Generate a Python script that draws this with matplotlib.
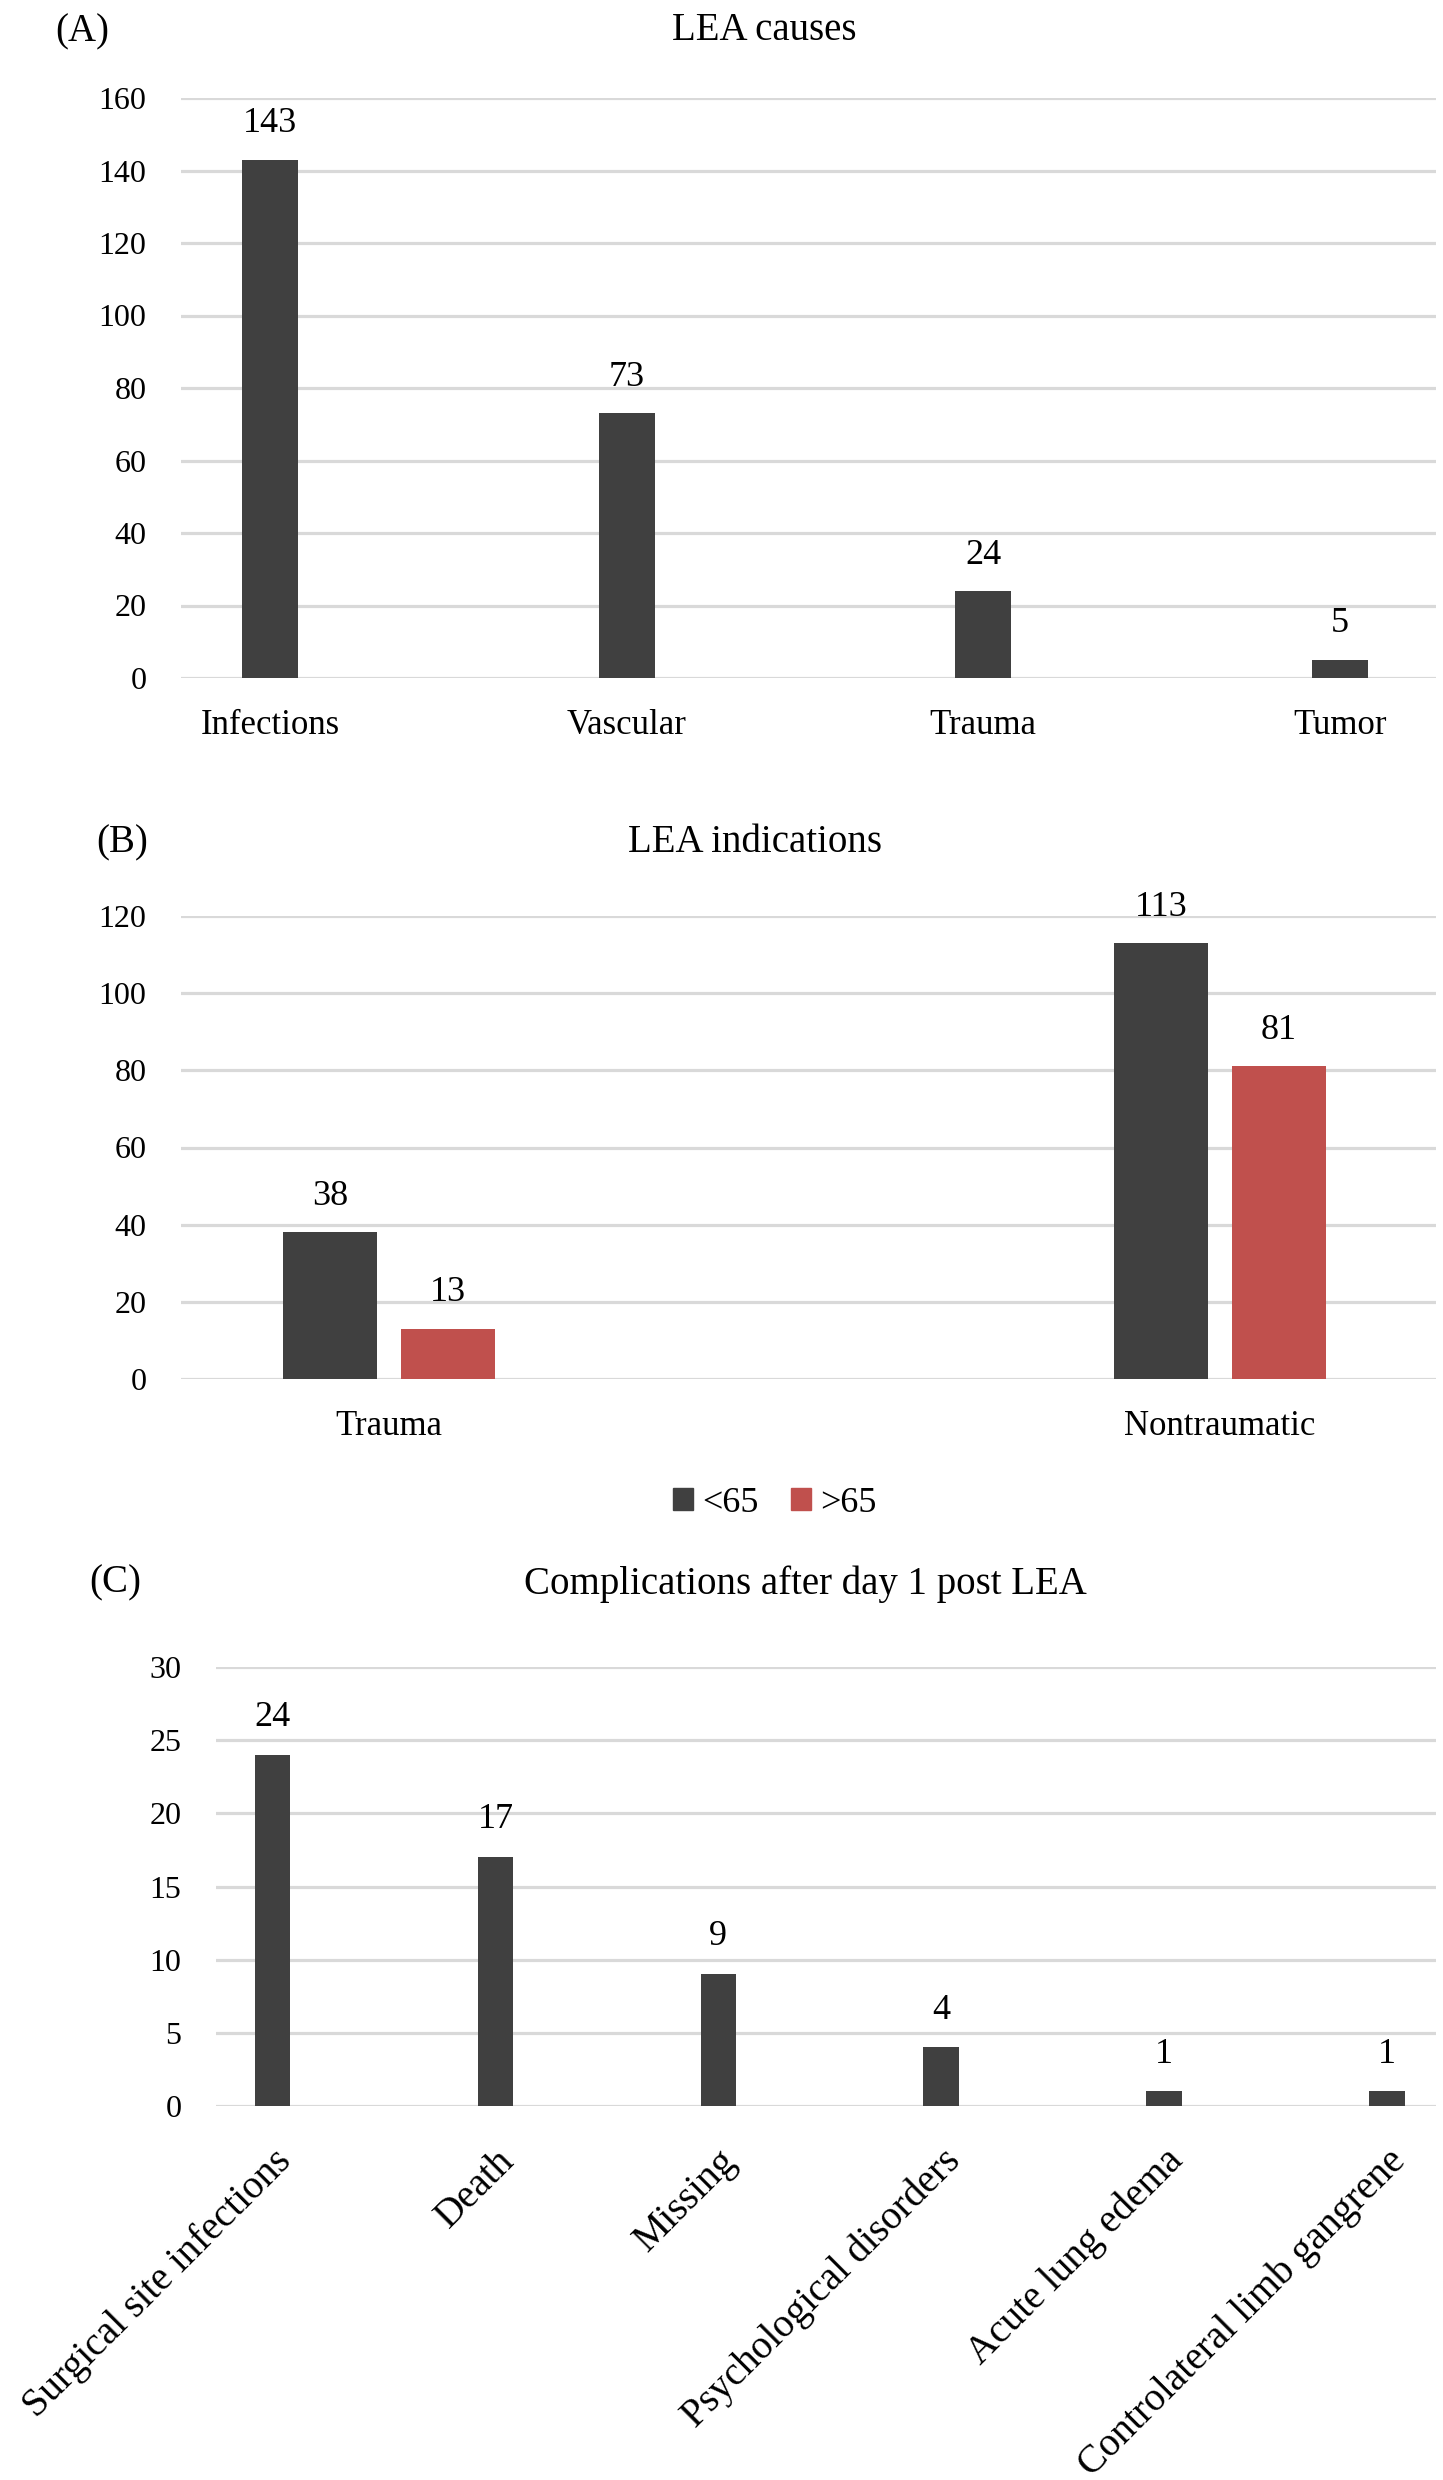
import matplotlib
matplotlib.use("Agg")
import matplotlib.pyplot as plt
from matplotlib.patches import Patch

plt.rcParams['font.family'] = ['Liberation Serif', 'DejaVu Serif']

# data
causes = ['Infections', 'Vascular', 'Trauma', 'Tumor']
causes_n = [143, 73, 24, 5]

indications = ['Trauma', 'Nontraumatic']
under65 = [38, 113]
over65 = [13, 81]

complications = ['Surgical site infections', 'Death', 'Missing',
                 'Psychological disorders', 'Acute lung edema',
                 'Controlateral limb gangrene']
complications_n = [24, 17, 9, 4, 1, 1]

DARK = '#404040'
RED = '#c0504d'
GRID = '#d9d9d9'
W, H = 1443, 2480


def style(ax, ymax, step):
    ax.set_ylim(0, ymax)
    ax.set_yticks(range(0, ymax + 1, step))
    ax.yaxis.grid(True, color=GRID, linewidth=2.3)
    ax.set_axisbelow(True)
    for s in ax.spines.values():
        s.set_visible(False)
    ax.tick_params(axis='both', length=0)
    ax.tick_params(axis='y', labelsize=23, pad=25)


fig = plt.figure(figsize=(W / 100, H / 100), dpi=100)

# (A) LEA causes
axA = fig.add_axes([181 / W, 1 - 678 / H, 1255 / W, 580 / H])
style(axA, 160, 20)
x = range(len(causes))
b = axA.bar(x, causes_n, width=0.157, color=DARK)
axA.bar_label(b, padding=14, fontsize=26)
axA.set_xticks(list(x))
axA.set_xticklabels(causes, fontsize=25)
axA.tick_params(axis='x', pad=22)
axA.set_xlim(-0.25, 3.27)
fig.text(82 / W, 1 - 32 / H, '(A)', fontsize=28, ha='center', va='center')
fig.text(764 / W, 1 - 30 / H, 'LEA causes', fontsize=28, ha='center', va='center')

# (B) LEA indications
axB = fig.add_axes([181 / W, 1 - 1379 / H, 1255 / W, 463 / H])
style(axB, 120, 20)
x = [0, 1]
off = 0.071
b1 = axB.bar([i - off for i in x], under65, width=0.113, color=DARK, label='<65')
b2 = axB.bar([i + off for i in x], over65, width=0.113, color=RED, label='>65')
axB.bar_label(b1, padding=14, fontsize=26)
axB.bar_label(b2, padding=14, fontsize=26)
axB.set_xticks(x)
axB.set_xticklabels(indications, fontsize=25)
axB.tick_params(axis='x', pad=22)
axB.set_xlim(-0.25, 1.26)
fig.text(122 / W, 1 - 843 / H, '(B)', fontsize=28, ha='center', va='center')
fig.text(755 / W, 1 - 843 / H, 'LEA indications', fontsize=28, ha='center', va='center')
fig.legend(handles=[Patch(color=DARK, label='<65'), Patch(color=RED, label='>65')],
           loc='center', bbox_to_anchor=(775 / W, 1 - 1503 / H), ncol=2,
           frameon=False, fontsize=26, handlelength=0.55, handleheight=0.55,
           handletextpad=0.25, columnspacing=0.9)

# (C) Complications after day 1 post LEA
axC = fig.add_axes([216 / W, 1 - 2106 / H, 1220 / W, 439 / H])
style(axC, 30, 5)
x = range(len(complications))
b = axC.bar(x, complications_n, width=0.16, color=DARK)
axC.bar_label(b, padding=15, fontsize=26)
axC.set_xticks(list(x))
axC.set_xticklabels(complications, fontsize=28.5, rotation=45, ha='right',
                    va='top', rotation_mode='anchor')
axC.tick_params(axis='x', pad=26)
axC.set_xlim(-0.254, 5.22)
fig.text(115 / W, 1 - 1583 / H, '(C)', fontsize=28, ha='center', va='center')
fig.text(805 / W, 1 - 1584 / H, 'Complications after day 1 post LEA', fontsize=28,
         ha='center', va='center')

fig.savefig('out.png', dpi=100)
